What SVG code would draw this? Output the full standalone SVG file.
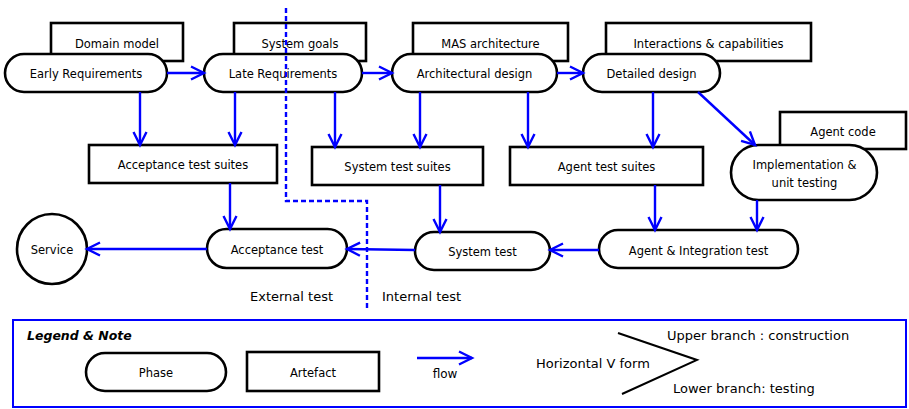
<svg xmlns="http://www.w3.org/2000/svg" width="909" height="409" viewBox="0 0 909 409">
<style>
  text { font-family: "DejaVu Sans", "Liberation Sans", sans-serif; fill: #000; }
  .t { font-size: 11.5px; text-anchor: middle; }
  .l { font-size: 13px; }
  .phase { fill: #fff; stroke: #000; stroke-width: 2.6; }
  .art { fill: #fff; stroke: #000; stroke-width: 2.6; }
  .flow { fill: none; stroke: #0000ff; stroke-width: 2.4; marker-end: url(#ah); }
</style>
<defs>
  <marker id="ah" markerUnits="userSpaceOnUse" markerWidth="18" markerHeight="18" refX="14" refY="8" orient="auto">
    <path d="M1,1.5 L14,8 L1,14.5" fill="none" stroke="#0000ff" stroke-width="2.4"/>
  </marker>
</defs>
<rect width="909" height="409" fill="#fff"/>

<!-- artefacts behind phases -->
<g id="domain-model"><rect class="art" x="51" y="23" width="132" height="38"/><text class="t" x="117" y="48">Domain model</text></g>
<g id="system-goals"><rect class="art" x="234" y="23" width="132" height="38"/><text class="t" x="300" y="48">System goals</text></g>
<g id="mas-architecture"><rect class="art" x="413" y="23" width="155" height="38"/><text class="t" x="490.5" y="48">MAS architecture</text></g>
<g id="interactions"><rect class="art" x="606" y="23" width="205" height="38"/><text class="t" x="708.5" y="48">Interactions &amp; capabilities</text></g>
<g id="agent-code"><rect class="art" x="780" y="112" width="126" height="37"/><text class="t" x="843" y="136">Agent code</text></g>

<!-- phases -->
<g id="early-requirements"><rect class="phase" x="5" y="54" width="162" height="38" rx="19"/><text class="t" x="86" y="78">Early Requirements</text></g>
<g id="late-requirements"><rect class="phase" x="204" y="54" width="158" height="38" rx="19"/><text class="t" x="283" y="78">Late Requirements</text></g>
<g id="architectural-design"><rect class="phase" x="392" y="54" width="165" height="38" rx="19"/><text class="t" x="474.5" y="78">Architectural design</text></g>
<g id="detailed-design"><rect class="phase" x="583" y="54" width="137" height="38" rx="19"/><text class="t" x="651.5" y="78">Detailed design</text></g>
<g id="implementation"><rect class="phase" x="731" y="145" width="146" height="55" rx="27.5"/><text class="t" x="804.5" y="169">Implementation &amp;</text><text class="t" x="804.5" y="187">unit testing</text></g>

<g id="acceptance-test-suites"><rect class="art" x="89" y="145" width="188" height="38"/><text class="t" x="183" y="169">Acceptance test suites</text></g>
<g id="system-test-suites"><rect class="art" x="312" y="147" width="171" height="38"/><text class="t" x="397.5" y="171">System test suites</text></g>
<g id="agent-test-suites"><rect class="art" x="510" y="147" width="193" height="38"/><text class="t" x="606.5" y="171">Agent test suites</text></g>

<g id="service"><circle cx="52" cy="249" r="35" fill="#fff" stroke="#000" stroke-width="2.6"/><text class="t" x="52" y="254">Service</text></g>
<g id="acceptance-test"><rect class="phase" x="207" y="229" width="140" height="39" rx="19.5"/><text class="t" x="277" y="254">Acceptance test</text></g>
<g id="system-test"><rect class="phase" x="415" y="232" width="135" height="38" rx="19"/><text class="t" x="482.5" y="256">System test</text></g>
<g id="agent-integration-test"><rect class="phase" x="599" y="230" width="199" height="38" rx="19"/><text class="t" x="698.5" y="255">Agent &amp; Integration test</text></g>

<g id="connectors">
  <line class="flow" x1="167" y1="73" x2="204" y2="73"/>
  <line class="flow" x1="362" y1="73" x2="392" y2="73"/>
  <line class="flow" x1="557" y1="73" x2="583" y2="73"/>
  <line class="flow" x1="140" y1="92" x2="140" y2="145"/>
  <line class="flow" x1="235" y1="92" x2="235" y2="145"/>
  <line class="flow" x1="335" y1="92" x2="335" y2="147"/>
  <line class="flow" x1="420" y1="92" x2="420" y2="147"/>
  <line class="flow" x1="528" y1="92" x2="528" y2="147"/>
  <line class="flow" x1="653" y1="92" x2="653" y2="147"/>
  <line class="flow" x1="698" y1="92" x2="755" y2="145"/>
  <line class="flow" x1="230" y1="183" x2="230" y2="229"/>
  <line class="flow" x1="440" y1="185" x2="440" y2="232"/>
  <line class="flow" x1="655" y1="185" x2="655" y2="230"/>
  <line class="flow" x1="757" y1="200" x2="757" y2="230"/>
  <line class="flow" x1="207" y1="249" x2="87" y2="249"/>
  <line class="flow" x1="415" y1="250" x2="347" y2="249"/>
  <line class="flow" x1="599" y1="250" x2="550" y2="250"/>
</g>

<path d="M286,8 V201 H367 V311" fill="none" stroke="#0000ff" stroke-width="2.4" stroke-dasharray="5,3"/>
<text class="l" x="250" y="301">External test</text>
<text class="l" x="382" y="301">Internal test</text>

<g id="legend">
  <rect x="13" y="320" width="893" height="87" fill="none" stroke="#0000ff" stroke-width="2"/>
  <text x="27" y="340" style="font-size:12.5px;font-weight:bold;font-style:italic">Legend &amp; Note</text>
  <rect class="phase" x="86" y="353" width="140" height="38" rx="19"/><text class="t" x="156" y="377">Phase</text>
  <rect class="art" x="247" y="352" width="132" height="39"/><text class="t" x="313" y="377">Artefact</text>
  <line class="flow" x1="417" y1="358" x2="472" y2="358"/>
  <text class="t" x="445" y="378" style="font-size:12px">flow</text>
  <text class="l" x="536" y="368">Horizontal V form</text>
  <path d="M618,333 L697,360 L622,394" fill="none" stroke="#000" stroke-width="2"/>
  <text class="l" x="667" y="340">Upper branch : construction</text>
  <text class="l" x="673" y="393">Lower branch: testing</text>
</g>
</svg>
